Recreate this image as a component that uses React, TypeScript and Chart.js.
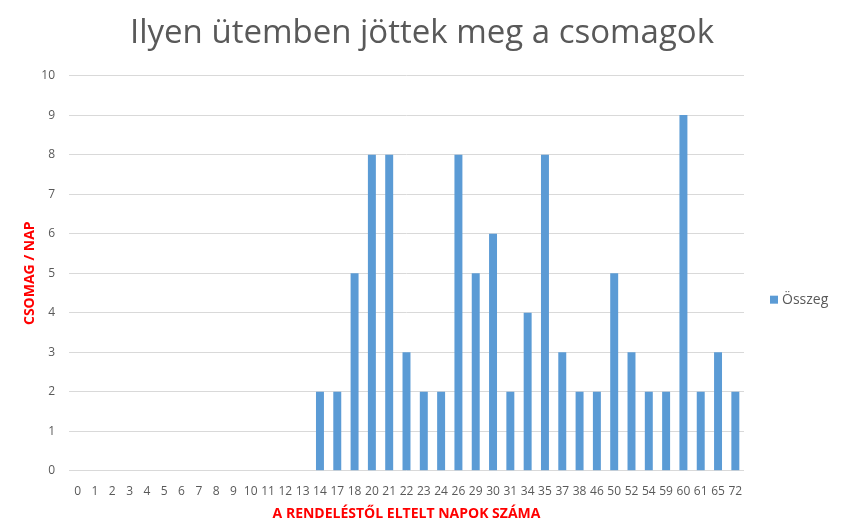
import React, { useEffect, useRef } from "react";
import { Chart, registerables } from "chart.js";

Chart.register(...registerables);

const categories = ["0","1","2","3","4","5","6","7","8","9","10","11","12","13","14","17","18","20","21","22","23","24","26","29","30","31","34","35","37","38","46","50","52","54","59","60","61","65","72"];
const values = [0,0,0,0,0,0,0,0,0,0,0,0,0,0,2,2,5,8,8,3,2,2,8,5,6,2,4,8,3,2,2,5,3,2,2,9,2,3,2];
const seriesName = "Összeg";
const titleText = "Ilyen ütemben jöttek meg a csomagok";
const xTitle = "A RENDELÉSTŐL ELTELT NAPOK SZÁMA";
const yTitle = "CSOMAG / NAP";
const barColor = "#5b9bd5";
const titleSize = 33;
const titlePadTop = 14;

const decorations = {
  id: "decorations",
  afterDraw(chart: any) {
    const { ctx, chartArea } = chart;
    ctx.save();
    ctx.fillStyle = "#595959";
    ctx.font = `${titleSize}px 'Open Sans', 'Liberation Sans', sans-serif`;
    ctx.textAlign = "center";
    ctx.textBaseline = "middle";
    const tb = chart.titleBlock;
    const ty = (tb ? tb.top : 0) + titlePadTop + (titleSize * 1.2) / 2;
    ctx.fillText(titleText, chart.width / 2, ty);
    const x = chartArea.right + 26;
    const y = chartArea.top + (chartArea.bottom - chartArea.top) * 0.567;
    ctx.fillStyle = barColor;
    ctx.fillRect(x, y - 4, 8, 8);
    ctx.fillStyle = "#595959";
    ctx.font = "14px 'Open Sans', sans-serif";
    ctx.textAlign = "left";
    ctx.fillText(seriesName, x + 12, y);
    ctx.restore();
  },
};

export default function App() {
  const ref = useRef<HTMLCanvasElement | null>(null);
  useEffect(() => {
    if (!ref.current) return;
    const chart = new Chart(ref.current, {
      type: "bar",
      data: {
        labels: categories,
        datasets: [
          {
            label: seriesName,
            data: values,
            backgroundColor: barColor,
            barPercentage: 0.46,
            categoryPercentage: 1,
          },
        ],
      },
      plugins: [decorations],
      options: {
        animation: false,
        responsive: false,
        maintainAspectRatio: false,
        layout: { padding: { left: 18, right: 100, top: 0, bottom: 5 } },
        plugins: {
          title: {
            display: true,
            text: titleText,
            color: "rgba(0,0,0,0)",
            font: { family: "'Open Sans', 'Liberation Sans', sans-serif", size: titleSize, weight: "normal" },
            padding: { top: titlePadTop, bottom: 22 },
          },
          legend: { display: false },
          tooltip: { enabled: false },
        },
        scales: {
          x: {
            grid: { display: false },
            border: { display: false },
            ticks: {
              color: "#595959",
              font: { family: "'Open Sans', sans-serif", size: 12 },
              maxRotation: 0,
              autoSkip: false,
              padding: 6,
            },
            title: {
              display: true,
              text: xTitle,
              color: "#ff0000",
              font: { family: "'Open Sans', sans-serif", size: 14, weight: "bold" },
              padding: { top: 0 },
            },
          },
          y: {
            min: 0,
            max: 10,
            grid: { color: "#d9d9d9", drawTicks: false },
            border: { display: false },
            afterFit(scale: any) {
              scale.width = 51;
            },
            ticks: {
              stepSize: 1,
              color: "#595959",
              font: { family: "'Open Sans', sans-serif", size: 12 },
              padding: 14,
            },
            title: {
              display: true,
              text: yTitle,
              color: "#ff0000",
              font: { family: "'Open Sans', sans-serif", size: 14, weight: "bold" },
              padding: { top: 4, bottom: 3 },
            },
          },
        },
      },
    });
    return () => chart.destroy();
  }, []);
  return (
    <div style={{ position: "absolute", left: 0, top: 0, width: 844, height: 531, background: "#fff" }}>
      <canvas ref={ref} width={844} height={531} style={{ width: 844, height: 531 }} />
    </div>
  );
}
